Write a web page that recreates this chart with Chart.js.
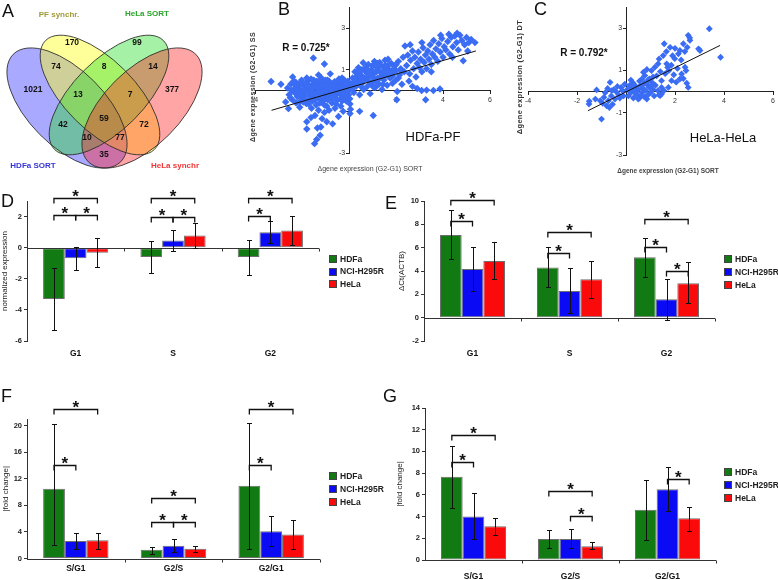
<!DOCTYPE html>
<html>
<head>
<meta charset="utf-8">
<script src="https://cdn.jsdelivr.net/npm/chart.js@4.4.0/dist/chart.umd.min.js"></script>
<style>
body { margin: 0; background: #fff; }
#fig { position: relative; width: 778px; height: 580px; overflow: hidden; font-family: "Liberation Sans", Arial, sans-serif; }
canvas { position: absolute; }
.t { position: absolute; white-space: nowrap; color: #111; transform: translate(-50%, -50%); }
.lt { position: absolute; font-size: 18px; line-height: 18px; color: #111; }
.rot { transform: translate(-50%, -50%) rotate(-90deg); }
</style>
</head>
<body>
<div id="fig">
  <canvas id="cA" width="250" height="185" style="left:0;top:0;width:250px;height:185px"></canvas>
  <canvas id="cB" width="250" height="175" style="left:250px;top:0;width:250px;height:175px"></canvas>
  <canvas id="cC" width="261" height="175" style="left:517px;top:0;width:261px;height:175px"></canvas>
  <canvas id="cD" width="390" height="195" style="left:0;top:185px;width:390px;height:195px"></canvas>
  <canvas id="cE" width="388" height="195" style="left:390px;top:185px;width:388px;height:195px"></canvas>
  <canvas id="cF" width="390" height="195" style="left:0;top:385px;width:390px;height:195px"></canvas>
  <canvas id="cG" width="388" height="195" style="left:390px;top:385px;width:388px;height:195px"></canvas>

  <div class="lt" style="left:2px;top:2px">A</div>
  <div class="lt" style="left:278px;top:0px">B</div>
  <div class="lt" style="left:534px;top:0px">C</div>
  <div class="lt" style="left:1px;top:192px">D</div>
  <div class="lt" style="left:385px;top:194px">E</div>
  <div class="lt" style="left:1px;top:387px">F</div>
  <div class="lt" style="left:383px;top:387px">G</div>

  <div class="t" style="left:306px;top:47px;font-size:10px;font-weight:bold">R = 0.725*</div>
  <div class="t" style="left:433px;top:136px;font-size:13px">HDFa-PF</div>
  <div class="t rot" style="left:252px;top:87px;font-size:7px;font-weight:bold;letter-spacing:0.4px;color:#333">&Delta;gene expression (G2-G1) SS</div>
  <div class="t" style="left:370px;top:168px;font-size:7px;color:#444">&Delta;gene expression (G2-G1) SORT</div>

  <div class="t" style="left:584px;top:52px;font-size:10px;font-weight:bold">R = 0.792*</div>
  <div class="t" style="left:723px;top:137px;font-size:13px">HeLa-HeLa</div>
  <div class="t rot" style="left:519px;top:77px;font-size:7.5px;font-weight:bold;letter-spacing:0.3px;color:#333">&Delta;gene expression (G2-G1) DT</div>
  <div class="t" style="left:668px;top:170px;font-size:6.5px;font-weight:bold;color:#444">&Delta;gene expression (G2-G1) SORT</div>
</div>

<script>
// ---- Venn (A)
const vennSets = ['HDFa SORT', 'PF synchr.', 'HeLa SORT', 'HeLa synchr'];
const vennCounts = [1021, 170, 99, 377, 74, 8, 14, 13, 7, 42, 59, 72, 10, 77, 35];
// where each count sits (px units of the venn axes)
const vennPos = [[33,90],[72,43],[137,43],[172,90],[56,67],[104,67],[153,67],[78,95],[130,95],[63,125],[104,119],[144,125],[87,138],[120,138],[104,155]];
const vennShapes = [[67,108,76,38,45],[100,95,77,35,45],[109,95,77,35,-45],[142,108,76,38,-45]];
const vennNamePos = [[33,166],[59,15],[147,14],[175,166]];
const vennFill = ['rgba(40,40,255,0.4)', 'rgba(255,255,30,0.45)', 'rgba(30,220,30,0.4)', 'rgba(255,30,30,0.4)'];
const vennText = ['#3535d5', '#a09a3a', '#2aa52a', '#ee3535'];

// ---- scatter (B, C)
const scatterXTicks = [-4, -2, 2, 4, 6];
const scatterYTicks = [-3, -1, 1, 3];
const trendB = [[-3.3, -0.95], [5.4, 1.9]];
const trendC = [[-1.55, -0.9], [3.84, 2.19]];
const scatterB = [
  [-2.62,0.12],[-2.55,-0.2],[-2.48,0.31],[-2.41,-0.45],[-2.35,0.05],[-2.3,-0.12],[-2.27,0.4],[-2.2,-0.3],[-2.15,0.18],[-2.1,-0.55],
  [-2.07,0.02],[-2.02,0.5],[-1.98,-0.18],[-1.95,0.28],[-1.9,-0.4],[-1.86,0.1],[-1.82,-0.62],[-1.78,0.42],[-1.75,-0.08],[-1.7,0.22],
  [-1.66,-0.3],[-1.62,0.55],[-1.6,0.0],[-1.55,-0.5],[-1.52,0.33],[-1.48,-0.15],[-1.45,0.15],[-1.4,-0.7],[-1.37,0.45],[-1.33,-0.35],
  [-1.3,0.05],[-1.26,0.28],[-1.22,-0.2],[-1.18,0.6],[-1.15,-0.55],[-1.12,0.12],[-1.08,-0.05],[-1.05,0.38],[-1.01,-0.4],[-0.98,0.2],
  [-0.95,-0.75],[-0.92,0.5],[-0.88,-0.12],[-0.85,0.08],[-0.8,-0.3],[-0.77,0.3],[-0.73,-0.6],[-0.7,0.15],[-0.66,-0.02],[-0.62,0.42],
  [-0.58,-0.25],[-0.55,0.22],[-0.5,-0.45],[-0.47,0.05],[-0.43,0.55],[-0.4,-0.15],[-0.36,0.3],[-0.32,-0.35],[-0.28,0.1],[-0.25,0.4],
  [-0.2,-0.05],[-0.17,0.25],[-0.12,-0.5],[-0.08,0.15],[-0.05,0.45],[-0.02,-0.2],[0.02,0.05],[0.04,-0.65],[0.06,-0.9],[0.03,-0.4],
  [-2.0,-0.35],[-1.7,-0.45],[-1.4,0.3],[-1.2,-0.4],[-0.9,0.3],[-0.6,-0.4],[-0.3,0.6],[-1.8,0.6],[-2.3,0.25],[-1.1,-0.25],
  [-0.75,-0.2],[-1.55,0.12],[-1.9,-0.25],[-0.45,0.35],[-0.15,-0.3],
  [-2.45,0.0],[-2.2,0.05],[-2.05,-0.15],[-1.85,0.35],[-1.65,0.05],[-1.5,-0.3],[-1.35,-0.1],[-1.25,0.45],[-1.1,0.3],[-0.95,-0.2],
  [-0.8,0.1],[-0.65,0.25],[-0.55,-0.05],[-0.4,0.15],[-0.25,-0.15],[-0.1,0.3],[-1.95,0.05],[-1.6,-0.15],[-0.7,-0.35],[-0.3,-0.5],
  [-1.75,0.25],[-1.0,0.05],[-0.85,0.45],[-1.45,-0.45],[-2.1,0.35],
  [-2.5,-0.35],[-2.35,0.45],[-2.25,-0.6],[-1.95,-0.55],[-1.72,-0.65],[-1.5,0.5],[-1.2,0.2],[-1.0,0.5],[-0.9,-0.45],[-0.62,-0.1],
  [-0.5,0.45],[-0.35,-0.05],[-0.2,0.5],[-0.05,0.0],[-1.35,0.15],[-1.85,-0.05],[-2.15,-0.1],[-0.55,-0.65],[-1.05,-0.7],[-1.25,-0.6],
  [-2.1,-0.8],[-1.6,-0.85],[-1.3,-0.95],[-1.05,-1.05],[-0.85,-0.95],[-0.6,-0.85],[-0.35,-0.75],[-1.45,-1.2],[-1.15,-1.35],[-0.95,-1.5],
  [-0.7,-1.6],[-1.8,-1.5],[-1.62,-1.3],[-1.8,-1.85],[-1.47,-2.55],[-1.38,-2.35],[-1.23,-2.15],[-1.35,-1.8],[-0.45,-1.25],[0.04,-1.1],
  [0.45,-1.0],[1.03,-1.2],[-2.58,-0.87],[-1.2,-1.75],[-0.25,-1.0],
  [-3.32,0.43],[-2.9,0.3],[-1.52,1.56],[-1.05,1.27],[-2.4,0.65],[-1.3,0.75],[-0.8,0.8],[-2.7,-0.55],
  [0.1,0.3],[0.15,0.6],[0.2,-0.1],[0.25,0.9],[0.3,0.2],[0.35,0.5],[0.4,1.1],[0.45,-0.2],[0.5,0.75],[0.55,0.35],
  [0.6,1.33],[0.62,0.05],[0.68,0.95],[0.72,0.55],[0.78,0.2],[0.82,1.25],[0.86,0.7],[0.9,-0.15],[0.95,1.0],[1.0,0.4],
  [1.05,0.8],[1.08,1.4],[1.12,0.15],[1.18,1.1],[1.22,0.6],[1.27,0.3],[1.3,1.35],[1.35,0.85],[1.4,0.05],[1.44,1.15],
  [1.48,0.5],[1.53,1.45],[1.57,0.75],[1.62,0.25],[1.66,1.5],[1.7,1.0],[1.75,0.6],[1.8,1.3],[1.85,0.35],[1.9,0.9],
  [1.95,1.2],[2.0,0.5],[2.05,-0.05],[2.1,1.4],[2.15,0.75],[2.2,1.05],[2.25,0.3],[2.3,1.6],[2.38,2.14],[2.35,0.9],
  [0.3,0.65],[0.55,1.0],[0.75,0.85],[1.0,1.2],[1.15,0.9],[1.4,0.7],[1.6,1.1],[1.85,0.7],[0.45,0.45],[0.85,0.45],
  [1.25,1.0],[1.7,1.25],[2.0,0.95],[0.2,0.35],[0.65,0.6],
  [0.25,0.45],[0.4,0.8],[0.6,0.45],[0.8,0.65],[0.95,0.3],[1.1,0.55],[1.3,0.6],[1.5,0.95],[1.65,0.7],[1.9,1.05],
  [2.1,0.6],[0.7,1.1],[1.2,1.3],[0.5,0.2],[1.0,0.65],
  [0.15,0.1],[0.35,0.3],[0.55,0.6],[0.75,1.05],[0.9,0.85],[1.2,0.4],[1.45,0.3],[1.55,1.2],[1.75,0.85],[2.0,1.25],
  [2.25,0.95],[1.3,1.2],[0.35,0.9],[1.05,0.15],
  [2.03,-0.44],[3.09,0.0],[3.3,0.02],[3.59,0.0],[3.87,0.07],[3.26,-0.44],[2.7,0.2],[2.9,0.1],[2.55,0.45],
  [2.45,1.2],[2.5,1.7],[2.58,0.8],[2.62,1.45],[2.7,1.9],[2.75,1.05],[2.8,1.6],[2.85,0.65],[2.9,1.3],[2.95,1.85],
  [3.0,1.1],[3.05,1.5],[3.1,0.9],[3.15,2.05],[3.2,1.35],[3.25,1.7],[3.3,1.05],[3.35,1.9],[3.4,1.5],[3.45,2.2],
  [3.5,1.25],[3.55,1.75],[3.6,2.4],[3.65,1.6],[3.7,2.0],[3.78,1.4],[3.82,2.25],[3.88,1.85],[3.95,2.5],[4.0,1.6],
  [4.05,2.1],[4.12,1.95],[4.2,2.35],[4.28,1.75],[4.35,2.55],[4.42,2.1],[4.5,2.62],[4.58,2.3],[4.65,1.95],[4.72,2.65],
  [4.8,2.4],[4.86,1.43],[4.92,2.2],[5.0,2.55],[5.1,2.3],[5.2,2.45],[5.36,2.3],[4.4,1.6],[3.5,0.9],[2.6,2.2],
  [3.1,2.3],[4.6,2.75],[4.25,2.7],[3.9,2.65],[5.05,1.9]
];
const scatterC = [
  [-1.51,-0.59],[-1.5,-0.45],[-1.2,0.08],[-1.0,-1.3],[-1.05,-0.43],[-0.9,-0.27],[-0.65,0.44],[-0.72,-0.43],[-0.58,0.05],[-0.79,-0.67],
  [-0.68,-0.75],[-0.5,0.1],[-0.4,0.0],[-0.3,-0.15],[-0.45,-0.35],[-0.85,-0.05],[-0.95,-0.55],[-0.6,-0.2],[-0.2,0.2],[-0.15,0.05],
  [-0.1,-0.2],[-0.05,0.35],[-0.35,0.25],[-0.25,-0.3],[-1.25,-0.35],[-0.75,0.15],[-0.55,-0.6],
  [0.05,0.1],[0.1,-0.2],[0.15,0.3],[0.2,-0.05],[0.25,0.15],[0.3,-0.3],[0.35,0.05],[0.4,0.25],[0.45,-0.15],[0.5,0.1],
  [0.55,-0.3],[0.6,0.3],[0.65,-0.05],[0.7,0.15],[0.75,-0.25],[0.8,0.05],[0.85,0.35],[0.9,-0.15],[0.95,0.2],[1.0,-0.05],
  [1.05,0.45],[1.1,0.1],[1.15,-0.2],[1.2,0.3],[1.3,0.05],[1.35,-0.15],[1.45,0.2],[1.45,-0.11],[1.39,-0.19],[1.55,0.05],
  [0.3,0.4],[0.55,0.5],[0.4,-0.1],[0.65,0.6],[0.9,0.55],[0.2,0.55],[0.75,0.4],[1.0,0.25],[0.5,-0.35],[0.85,-0.35],
  [0.12,0.15],[0.35,0.2],[0.62,-0.18],
  [0.71,0.92],[0.77,0.76],[1.04,1.0],[1.18,1.16],[1.31,1.32],[1.52,1.71],[1.56,2.27],[1.8,2.1],[1.66,1.32],[1.7,1.15],
  [1.75,1.0],[1.99,1.56],[2.14,1.79],[2.34,2.27],[2.54,2.67],[2.61,2.43],[2.2,1.95],[2.41,1.16],[2.48,0.4],[2.54,0.2],
  [2.34,0.62],[2.27,0.84],[2.96,2.03],[3.02,1.95],[3.4,2.98],[3.86,1.63],[1.86,0.52],[1.95,0.8],[2.05,0.45],[1.45,0.52],
  [1.73,0.2],[1.12,0.36],[0.95,0.6],[1.25,0.75],[1.4,0.95],[1.6,0.85],[1.85,1.25],[2.1,1.1],[2.25,1.5],[2.4,1.9],
  [2.5,2.1],[1.65,1.9],[1.9,1.7],[2.0,2.05],[1.35,1.55],[1.1,0.7],[0.85,1.05],[2.6,2.55],[2.2,0.6],[2.45,1.0]
];

// ---- bars (D-G)
const cellLines = ['HDFa', 'NCI-H295R', 'HeLa'];
const barColors = ['#127a12', '#0a0af5', '#fa0a0a'];
const phases = ['G1', 'S', 'G2'];
const ratios = ['S/G1', 'G2/S', 'G2/G1'];

// D normalized expression
const dTicks = [-6, -4, -2, 0, 2];
const dHDFa = [-3.3, -0.6, -0.6];
const dNCI = [-0.68, 0.46, 0.99];
const dHeLa = [-0.33, 0.79, 1.1];
const dHDFaErr = [[-5.3, -1.3], [-1.6, 0.43], [-1.74, 0.5]];
const dNCIErr = [[-1.42, 0.07], [-0.22, 1.12], [0.32, 1.7]];
const dHeLaErr = [[-1.27, 0.65], [0.0, 1.6], [0.15, 2.06]];
const dStars = [[0,0,2,3.2],[0,0,1,2.1],[0,1,2,2.1],[1,0,2,3.2],[1,0,1,2.0],[1,1,2,2.0],[2,0,2,3.2],[2,0,1,2.05]];

// E delta Ct
const eTicks = [-2, 0, 2, 4, 6, 8, 10];
const eHDFa = [7.09, 4.31, 5.17];
const eNCI = [4.17, 2.29, 1.57];
const eHeLa = [4.86, 3.29, 2.94];
const eHDFaErr = [[5.0, 9.23], [2.6, 6.03], [3.46, 6.8]];
const eNCIErr = [[2.29, 6.03], [0.37, 4.29], [-0.2, 3.29]];
const eHeLaErr = [[3.29, 6.46], [1.71, 4.86], [1.23, 4.8]];
const eStars = [[0,0,2,10.1],[0,0,1,8.25],[1,0,2,7.35],[1,0,1,5.55],[2,0,2,8.5],[2,0,1,6.1],[2,1,2,3.97]];

// F fold change
const fTicks = [0, 4, 8, 12, 16, 20];
const fHDFa = [10.5, 1.3, 10.95];
const fNCI = [2.64, 1.91, 4.12];
const fHeLa = [2.76, 1.46, 3.62];
const fHDFaErr = [[2.1, 20.3], [0.75, 1.76], [1.41, 20.45]];
const fNCIErr = [[1.41, 3.77], [1.0, 3.0], [1.86, 6.38]];
const fHeLaErr = [[1.41, 3.87], [1.0, 1.86], [1.41, 5.78]];
const fStars = [[0,0,2,22.5],[0,0,1,14.1],[1,0,2,9.15],[1,0,1,5.5],[1,1,2,5.5],[2,0,2,22.5],[2,0,1,14.1]];

// G fold change
const gTicks = [0, 2, 4, 6, 8, 10, 12, 14];
const gHDFa = [7.66, 1.94, 4.62];
const gNCI = [4.0, 1.94, 6.52];
const gHeLa = [3.1, 1.26, 3.85];
const gHDFaErr = [[4.77, 10.52], [1.08, 2.8], [1.85, 7.38]];
const gNCIErr = [[1.9, 6.15], [1.08, 2.86], [4.52, 8.55]];
const gHeLaErr = [[2.28, 3.9], [1.02, 1.63], [2.7, 4.92]];
const gStars = [[0,0,2,11.54],[0,0,1,9.0],[1,0,2,6.37],[1,1,2,4.06],[2,1,2,7.48]];

Chart.defaults.font.family = '"Liberation Sans", Arial, sans-serif';
Chart.defaults.color = '#222';
Chart.defaults.animation = false;

//elipses y numeros del venn
const vennPlugin = {
  id: 'venn',
  beforeDatasetsDraw(chart) {
    const { ctx, scales: { x, y } } = chart;
    ctx.save();
    const paths = vennShapes.map(([cx, cy, a, b, rot]) => {
      const px = x.getPixelForValue(cx), py = y.getPixelForValue(cy);
      const rx = x.getPixelForValue(cx + a) - px;
      const ry = Math.abs(y.getPixelForValue(cy + b) - py);
      const p = new Path2D();
      p.ellipse(px, py, rx, ry, rot * Math.PI / 180, 0, 2 * Math.PI);
      return p;
    });
    paths.forEach((p, i) => { ctx.fillStyle = vennFill[i]; ctx.fill(p); });
    ctx.strokeStyle = 'rgba(40,40,40,0.85)';
    ctx.lineWidth = 1;
    paths.forEach((p) => ctx.stroke(p));
    ctx.restore();
  },
  afterDatasetsDraw(chart) {
    const { ctx, scales: { x, y } } = chart;
    ctx.save();
    ctx.textAlign = 'center';
    ctx.textBaseline = 'middle';
    ctx.font = 'bold 8.5px "Liberation Sans", Arial';
    ctx.fillStyle = '#111';
    chart.getDatasetMeta(0).data.forEach((pt, i) => ctx.fillText(vennCounts[i], pt.x, pt.y));
    ctx.font = 'bold 8px "Liberation Sans", Arial';
    vennSets.forEach((name, i) => {
      ctx.fillStyle = vennText[i];
      ctx.fillText(name, x.getPixelForValue(vennNamePos[i][0]), y.getPixelForValue(vennNamePos[i][1]));
    });
    ctx.restore();
  }
};

new Chart(document.getElementById('cA'), {
  type: 'scatter',
  data: { datasets: [{ data: vennPos.map(([x, y]) => ({ x, y })), pointRadius: 0 }] },
  options: {
    responsive: false, events: [],
    layout: { padding: 0 },
    plugins: { legend: { display: false }, tooltip: { enabled: false } },
    scales: {
      x: { display: false, min: 0, max: 250 },
      y: { display: false, min: 0, max: 185, reverse: true }
    }
  },
  plugins: [vennPlugin]
});

const scatterChart = (id, pts, trend, pad, radius) => {
  return new Chart(document.getElementById(id), {
    type: 'scatter',
    data: {
      datasets: [
        { type: 'line', data: trend.map(([x, y]) => ({ x, y })), borderColor: '#111', borderWidth: 1, pointRadius: 0, fill: false },
        { data: pts.map(([x, y]) => ({ x, y })), pointStyle: 'rectRot', pointRadius: radius, backgroundColor: '#3a6cf4', borderWidth: 0 }
      ]
    },
    options: {
      responsive: false, events: [],
      layout: { padding: pad },
      plugins: { legend: { display: false }, tooltip: { enabled: false } },
      scales: {
        x: {
          type: 'linear', min: -4, max: 6, position: { y: 0 },
          afterFit: (s) => { s.height = 0; },
          afterBuildTicks: (s) => { s.ticks = scatterXTicks.map((v) => ({ value: v })); },
          grid: { drawOnChartArea: false, tickLength: 3, color: '#222' },
          border: { color: '#222' },
          ticks: { font: { size: 7 }, padding: 2, color: '#333', autoSkip: false, maxRotation: 0 }
        },
        y: {
          type: 'linear', min: -3, max: 4, position: { x: 0 },
          afterFit: (s) => { s.width = 0; },
          afterBuildTicks: (s) => { s.ticks = scatterYTicks.map((v) => ({ value: v })); },
          grid: { drawOnChartArea: false, tickLength: 3, color: '#222' },
          border: { color: '#222' },
          ticks: { font: { size: 7 }, color: '#333', autoSkip: false, callback: (v) => v + '  ' }
        }
      }
    }
  });
};

scatterChart('cB', scatterB, trendB, { left: 5, right: 10, top: 6, bottom: 22 }, 3.7);
scatterChart('cC', scatterC, trendC, { left: 11, right: 5, top: 7, bottom: 20 }, 3.4);

//barras de error
const errorBars = {
  id: 'errorBars',
  afterDatasetsDraw(chart) {
    const { ctx, scales: { y } } = chart;
    ctx.save();
    ctx.strokeStyle = '#111';
    ctx.lineWidth = 1;
    chart.data.datasets.forEach((ds, i) => {
      chart.getDatasetMeta(i).data.forEach((bar, j) => {
        const x = Math.round(bar.x) + 0.5;
        const y1 = Math.round(y.getPixelForValue(ds.err[j][0])) + 0.5;
        const y2 = Math.round(y.getPixelForValue(ds.err[j][1])) + 0.5;
        ctx.beginPath();
        ctx.moveTo(x, y1); ctx.lineTo(x, y2);
        ctx.moveTo(x - 2.5, y1); ctx.lineTo(x + 2.5, y1);
        ctx.moveTo(x - 2.5, y2); ctx.lineTo(x + 2.5, y2);
        ctx.stroke();
      });
    });
    ctx.restore();
  }
};

//eje en cero con marcas
const zeroAxis = {
  id: 'zeroAxis',
  afterDatasetsDraw(chart) {
    const { ctx, chartArea: ca, scales: { x, y } } = chart;
    const py = Math.round(y.getPixelForValue(0)) + 0.5;
    const half = (x.getPixelForValue(1) - x.getPixelForValue(0)) / 2;
    ctx.save();
    ctx.strokeStyle = '#333';
    ctx.lineWidth = 1;
    ctx.beginPath();
    ctx.moveTo(ca.left, py); ctx.lineTo(ca.right, py);
    chart.data.labels.forEach((l, i) => {
      const px = Math.round(x.getPixelForValue(i) + half) + 0.5;
      ctx.moveTo(px, py); ctx.lineTo(px, py + 3);
    });
    ctx.stroke();
    ctx.restore();
  }
};

//corchetes con asterisco
const brackets = {
  id: 'brackets',
  afterDatasetsDraw(chart, args, opts) {
    const { ctx, scales: { y } } = chart;
    ctx.save();
    ctx.strokeStyle = '#111';
    ctx.fillStyle = '#111';
    ctx.lineWidth = 1.3;
    ctx.textAlign = 'center';
    ctx.textBaseline = 'alphabetic';
    ctx.font = 'bold 17px "Liberation Sans", Arial';
    (opts.list || []).forEach(([cat, a, b, level]) => {
      const x1 = chart.getDatasetMeta(a).data[cat].x;
      const x2 = chart.getDatasetMeta(b).data[cat].x;
      const py = Math.round(y.getPixelForValue(level)) + 0.5;
      ctx.beginPath();
      ctx.moveTo(x1, py + 5); ctx.lineTo(x1, py); ctx.lineTo(x2, py); ctx.lineTo(x2, py + 5);
      ctx.stroke();
      ctx.fillText('*', (x1 + x2) / 2, py + 3);
    });
    ctx.restore();
  }
};

//leyenda a la derecha
const legendBox = {
  id: 'legendBox',
  afterDraw(chart, args, opts) {
    const { ctx } = chart;
    ctx.save();
    ctx.font = 'bold 8.5px "Liberation Sans", Arial';
    ctx.textBaseline = 'middle';
    chart.data.datasets.forEach((ds, i) => {
      const y = opts.y + i * opts.gap;
      ctx.fillStyle = ds.backgroundColor;
      ctx.fillRect(opts.x, Math.round(y - 4), 8, 8);
      ctx.strokeStyle = '#444';
      ctx.strokeRect(opts.x + 0.5, Math.round(y - 4) + 0.5, 7, 7);
      ctx.fillStyle = '#222';
      ctx.fillText(ds.label, opts.x + 11, y + 0.5);
    });
    ctx.restore();
  }
};

const barChart = (id, cats, series, errs, ticks, yMin, yMax, cfg) => {
  return new Chart(document.getElementById(id), {
    type: 'bar',
    data: {
      labels: cats,
      datasets: cellLines.map((name, i) => ({
        label: name,
        data: series[i],
        err: errs[i],
        backgroundColor: barColors[i],
        borderColor: '#6e6e6e',
        borderWidth: 1,
        borderSkipped: false,
        categoryPercentage: 0.67,
        barPercentage: 1
      }))
    },
    options: {
      responsive: false, events: [],
      layout: { padding: cfg.pad },
      plugins: {
        legend: { display: false },
        tooltip: { enabled: false },
        brackets: { list: cfg.stars },
        legendBox: cfg.legend
      },
      scales: {
        x: {
          grid: { display: false, drawTicks: false },
          border: { display: false },
          ticks: { font: { size: 8.5, weight: 'bold' }, padding: cfg.labelPad, color: '#111' },
          afterFit: (s) => { s.height = cfg.xh; }
        },
        y: {
          min: yMin, max: yMax,
          afterBuildTicks: (s) => { s.ticks = ticks.map((v) => ({ value: v })); },
          afterFit: (s) => { s.width = cfg.yw; },
          grid: { drawOnChartArea: false, tickLength: 3, color: '#333' },
          border: { color: '#333' },
          ticks: { font: { size: 7.5, weight: 'bold' }, padding: 2, color: '#222' },
          title: { display: true, text: cfg.title, font: { size: 8 }, padding: { top: cfg.titlePad, bottom: 0 }, color: '#222' }
        }
      }
    },
    plugins: [zeroAxis, errorBars, brackets, legendBox]
  });
};

barChart('cD', phases, [dHDFa, dNCI, dHeLa], [dHDFaErr, dNCIErr, dHeLaErr], dTicks, -6, 3, {
  pad: { left: 0, top: 16, right: 71, bottom: 0 }, yw: 27, xh: 39, labelPad: 8,
  title: 'normalized expression', titlePad: 0, stars: dStars, legend: { x: 329, y: 74, gap: 12.6 }
});
barChart('cE', phases, [eHDFa, eNCI, eHeLa], [eHDFaErr, eNCIErr, eHeLaErr], eTicks, -2, 10, {
  pad: { left: 0, top: 16, right: 63, bottom: 0 }, yw: 34, xh: 39, labelPad: 8,
  title: '\u0394Ct(ACTB)', titlePad: 7, stars: eStars, legend: { x: 334, y: 74, gap: 13 }
});
barChart('cF', ratios, [fHDFa, fNCI, fHeLa], [fHDFaErr, fNCIErr, fHeLaErr], fTicks, 0, 21, {
  pad: { left: 0, top: 34, right: 70, bottom: 0 }, yw: 27, xh: 21.5, labelPad: 5.5,
  title: '|fold change|', titlePad: 1, stars: fStars, legend: { x: 329, y: 90.7, gap: 13.3 }
});
barChart('cG', ratios, [gHDFa, gNCI, gHeLa], [gHDFaErr, gNCIErr, gHeLaErr], gTicks, 0, 14, {
  pad: { left: 0, top: 23, right: 62, bottom: 0 }, yw: 35, xh: 20, labelPad: 11.5,
  title: '|fold change|', titlePad: 5, stars: gStars, legend: { x: 334, y: 87.3, gap: 13 }
});
</script>
</body>
</html>
